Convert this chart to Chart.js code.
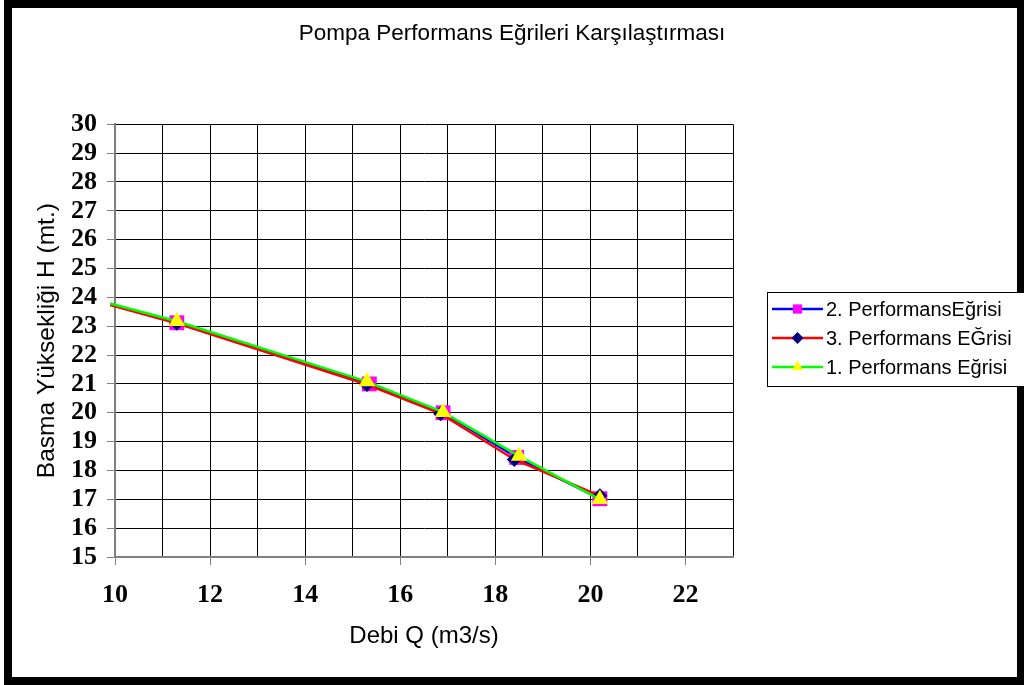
<!DOCTYPE html>
<html>
<head>
<meta charset="utf-8">
<script src="https://cdn.jsdelivr.net/npm/chart.js@4/dist/chart.umd.min.js"></script>
<style>
  html, body { margin: 0; padding: 0; background: #fff; }
  #wrap { width: 1024px; height: 685px; position: relative; }
  canvas { display: block; }
</style>
</head>
<body>
<div id="wrap"><canvas id="c" width="1024" height="685"></canvas></div>
<script>
// Pump performance curves: flow Q (m3/s) vs. head H (m)
const chartTitle = 'Pompa Performans Eğrileri Karşılaştırması';
const xTitle = 'Debi Q (m3/s)';
const yTitle = 'Basma Yüksekliği H (mt.)';
const seriesNames = ['2. PerformansEğrisi', '3. Performans EĞrisi', '1. Performans Eğrisi'];

// curve 2
const q2 = [9.9, 11.3, 15.35, 16.9, 18.45, 20.2];
const h2 = [23.76, 23.12, 21.0, 20.0, 18.45, 17.02];
// curve 3
const q3 = [9.9, 11.3, 15.3, 16.85, 18.4, 20.2];
const h3 = [23.73, 23.1, 20.98, 19.97, 18.38, 17.12];
// curve 1
const q1 = [9.9, 11.3, 15.3, 16.9, 18.5, 20.2];
const h1 = [23.79, 23.17, 21.08, 20.02, 18.5, 17.0];

const xMin = 10, xMax = 23, yMin = 15, yMax = 30;

const toXY = (xs, ys) => xs.map((x, i) => ({ x: x, y: ys[i] }));
// the first reading sits at the left edge and carries no marker
const radii = (r, n) => Array.from({ length: n }, (_, i) => (i === 0 ? 0 : r));

const styles = [
  { line: '#0000FF', fill: '#FF00FF', point: 'rect', r: 10.5, lr: 6.5 },
  { line: '#FF0000', fill: '#000080', point: 'rectRot', r: 7.5, lr: 6 },
  { line: '#00FF00', fill: '#FFFF00', point: 'triangle', r: 9.5, lr: 6.5 }
];
const seriesData = [toXY(q2, h2), toXY(q3, h3), toXY(q1, h1)];

const datasets = seriesData.map((d, i) => ({
  label: seriesNames[i],
  data: d,
  showLine: true,
  borderColor: styles[i].line,
  borderWidth: 2.5,
  backgroundColor: styles[i].fill,
  pointBackgroundColor: styles[i].fill,
  pointBorderColor: styles[i].fill,
  pointBorderWidth: 0,
  pointStyle: styles[i].point,
  pointRadius: radii(styles[i].r, d.length),
  pointHoverRadius: radii(styles[i].r, d.length),
  tension: 0,
  clip: false,
  order: 3 - i
}));

function marker(ctx, style, x, y, r, color) {
  ctx.save();
  ctx.fillStyle = color;
  ctx.beginPath();
  if (style === 'rect') {
    const s = Math.SQRT1_2 * r;
    ctx.rect(x - s, y - s, 2 * s, 2 * s);
  } else if (style === 'rectRot') {
    ctx.moveTo(x, y - r); ctx.lineTo(x + r, y); ctx.lineTo(x, y + r); ctx.lineTo(x - r, y);
    ctx.closePath();
  } else {
    const a = 2 * Math.PI / 3;
    ctx.moveTo(x, y - r);
    ctx.lineTo(x + Math.sin(a) * r, y - Math.cos(a) * r);
    ctx.lineTo(x + Math.sin(2 * a) * r, y - Math.cos(2 * a) * r);
    ctx.closePath();
  }
  ctx.fill();
  ctx.restore();
}

// boxed legend: line segment with its marker, then the series name
const boxLegend = {
  id: 'boxLegend',
  afterDraw(chart) {
    const ctx = chart.ctx;
    const bx = 767, by = 292, bw = 270, bh = 94;
    ctx.save();
    ctx.fillStyle = '#fff';
    ctx.fillRect(bx, by, bw, bh);
    ctx.strokeStyle = '#000';
    ctx.lineWidth = 1;
    ctx.strokeRect(bx + 0.5, by + 0.5, bw, bh);
    ctx.font = '20px "Liberation Sans", Arial, sans-serif';
    ctx.textBaseline = 'middle';
    ctx.textAlign = 'left';
    chart.data.datasets.forEach((ds, i) => {
      const y = 309 + i * 29;
      ctx.strokeStyle = styles[i].line;
      ctx.lineWidth = 2.5;
      ctx.beginPath();
      ctx.moveTo(772, y);
      ctx.lineTo(823, y);
      ctx.stroke();
      marker(ctx, styles[i].point, 797.5, y, styles[i].lr, styles[i].fill);
      ctx.fillStyle = '#000';
      ctx.fillText(ds.label, 826, y + 1);
    });
    ctx.restore();
  }
};

// heavy outer frame round the whole chart
const frame = {
  id: 'frame',
  beforeDraw(chart) {
    const ctx = chart.ctx;
    ctx.save();
    ctx.fillStyle = '#fff';
    ctx.fillRect(0, 0, chart.width, chart.height);
    ctx.restore();
  },
  afterDraw(chart) {
    const ctx = chart.ctx;
    ctx.save();
    ctx.strokeStyle = '#000';
    ctx.lineWidth = 8;
    ctx.strokeRect(8, 4, 1013, 677);
    ctx.restore();
  }
};

new Chart(document.getElementById('c'), {
  type: 'scatter',
  data: { datasets: datasets },
  plugins: [frame, boxLegend],
  options: {
    responsive: false,
    animation: false,
    devicePixelRatio: 1,
    layout: { padding: { left: 12, right: 12, top: 0, bottom: 10 } },
    plugins: {
      legend: { display: false },
      tooltip: { enabled: false },
      title: {
        display: true,
        text: chartTitle,
        color: '#000',
        font: { family: '"Liberation Sans", Arial, sans-serif', size: 22.5, weight: 'normal' },
        padding: { top: 20, bottom: 77.3 }
      }
    },
    scales: {
      x: {
        type: 'linear',
        min: xMin,
        max: xMax,
        afterFit(s) { s.height = 118; },
        ticks: {
          stepSize: 1,
          autoSkip: false,
          maxRotation: 0,
          padding: 14.4,
          color: '#000',
          font: { family: '"Liberation Serif", "Times New Roman", serif', size: 26, weight: 'bold' },
          callback: v => (v % 2 === 0 ? String(v) : '')
        },
        grid: {
          color: '#000',
          lineWidth: 1,
          tickLength: 8,
          tickColor: c => (c.tick && c.tick.value % 2 === 0 ? '#808080' : 'rgba(0,0,0,0)')
        },
        border: { color: '#808080', width: 2 },
        title: {
          display: true,
          text: xTitle,
          color: '#000',
          font: { family: '"Liberation Sans", Arial, sans-serif', size: 24 },
          padding: { top: 0, bottom: 24.6 }
        }
      },
      y: {
        type: 'linear',
        min: yMin,
        max: yMax,
        afterFit(s) { s.width = 103; },
        ticks: {
          stepSize: 1,
          autoSkip: false,
          padding: 10,
          color: '#000',
          font: { family: '"Liberation Serif", "Times New Roman", serif', size: 26, weight: 'bold' }
        },
        grid: { color: '#000', lineWidth: 1, tickLength: 8, tickColor: '#808080' },
        border: { color: '#808080', width: 2 },
        title: {
          display: true,
          text: yTitle,
          color: '#000',
          font: { family: '"Liberation Sans", Arial, sans-serif', size: 24.5 },
          padding: { top: 20.3, bottom: 0 }
        }
      },
      // reserves the band on the right where the legend sits
      side: {
        type: 'linear',
        position: 'right',
        display: true,
        min: yMin,
        max: yMax,
        afterFit(s) { s.width = 279; },
        ticks: { display: false },
        grid: { display: false },
        border: { display: false }
      }
    }
  }
});
</script>
</body>
</html>
